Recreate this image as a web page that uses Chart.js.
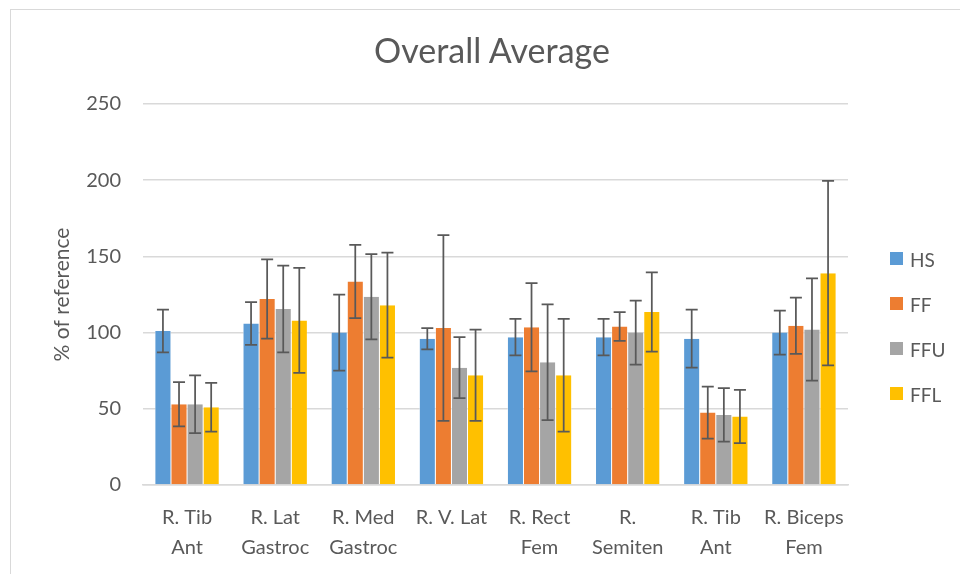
<!DOCTYPE html>
<html>
<head>
<meta charset="utf-8">
<script src="https://cdn.jsdelivr.net/npm/chart.js@4.4.1/dist/chart.umd.min.js"></script>
<style>
    html, body { margin: 0; padding: 0; background: #fff; }
    #wrap { position: relative; width: 960px; height: 574px; overflow: hidden; }
    #frame { position: absolute; left: 10px; top: 9px; width: 1000px; height: 600px; border: 1px solid #d9d9d9; box-sizing: border-box; }
    canvas { position: absolute; left: 0; top: 0; }
    #titulo { position: absolute; left: 0; width: 984px; top: 29px; text-align: center; font-family: Lato, sans-serif; font-size: 34px; line-height: 42px; color: #595959; }
    #legend { position: absolute; left: 890px; top: 248px; font-family: Lato, sans-serif; font-size: 19px; color: #595959; }
    #legend div { height: 45px; display: flex; align-items: flex-start; }
    #legend span.box { display: inline-block; width: 13px; height: 13px; margin: 4px 7px 0 0; }
</style>
</head>
<body>
<div id="wrap">
    <div id="frame"></div>
    <canvas id="chart" width="960" height="594"></canvas>
    <div id="titulo">Overall Average</div>
    <div id="legend"></div>
</div>
<script>
const categorias = [
    ["R. Tib", "Ant"], ["R. Lat", "Gastroc"], ["R. Med", "Gastroc"], ["R. V. Lat"],
    ["R. Rect", "Fem"], ["R.", "Semiten"], ["R. Tib", "Ant"], ["R. Biceps", "Fem"]
];
const series = ["HS", "FF", "FFU", "FFL"];
const colores = ["#5b9bd5", "#ed7d31", "#a5a5a5", "#ffc000"];

const valoresHS = [101, 106, 100, 96, 97, 97, 96, 100];
const valoresFF = [53, 122, 133.5, 103, 103.5, 104, 47.5, 104.5];
const valoresFFU = [53, 115.5, 123.5, 77, 80.5, 100, 46, 102];
const valoresFFL = [51, 108, 118, 72, 72, 113.5, 45, 139];

const errorHS = [14, 14, 25, 7, 12, 12, 19, 14.5];
const errorFF = [14.5, 26, 24, 61, 29, 9.5, 17, 18.5];
const errorFFU = [19, 28.5, 28, 20, 38, 21, 17.5, 33.5];
const errorFFL = [16, 34.5, 34.5, 30, 37, 26, 17.5, 60.5];

const ticksY = [0, 50, 100, 150, 200, 250];

const valores = [valoresHS, valoresFF, valoresFFU, valoresFFL];
const errores = [errorHS, errorFF, errorFFU, errorFFL];

// Barras de error simetricas dibujadas sobre cada barra
const errorBars = {
    id: "errorBars",
    afterDatasetsDraw(chart) {
        const ctx = chart.ctx;
        const y = chart.scales.y;
        ctx.save();
        ctx.strokeStyle = "#595959";
        ctx.lineWidth = 1.75;
        chart.data.datasets.forEach((ds, i) => {
            const meta = chart.getDatasetMeta(i);
            meta.data.forEach((bar, j) => {
                const v = ds.data[j];
                const e = ds.errores[j];
                const top = y.getPixelForValue(v + e);
                const bottom = y.getPixelForValue(v - e);
                ctx.beginPath();
                ctx.moveTo(bar.x, top);
                ctx.lineTo(bar.x, bottom);
                ctx.moveTo(bar.x - 6, top);
                ctx.lineTo(bar.x + 6, top);
                ctx.moveTo(bar.x - 6, bottom);
                ctx.lineTo(bar.x + 6, bottom);
                ctx.stroke();
            });
        });
        ctx.restore();
    }
};

const fuente = "Lato, sans-serif";

new Chart(document.querySelector("#chart"), {
    type: "bar",
    data: {
        labels: categorias,
        datasets: series.map((nombre, i) => ({
            label: nombre,
            data: valores[i],
            errores: errores[i],
            backgroundColor: colores[i],
            borderColor: "#ffffff",
            borderWidth: { left: 0.5, right: 0.5, top: 0, bottom: 0 },
            categoryPercentage: 0.73,
            barPercentage: 1
        }))
    },
    options: {
        responsive: false,
        animation: false,
        layout: { padding: { left: 50, right: 112, top: 104, bottom: 13 } },
        plugins: {
            legend: { display: false },
            tooltip: { enabled: false },
            title: { display: false }
        },
        scales: {
            x: {
                grid: { display: false, drawTicks: false },
                border: { color: "#d9d9d9", width: 1.5 },
                ticks: {
                    color: "#595959",
                    font: { family: fuente, size: 20, lineHeight: 1.5 },
                    padding: 18,
                    maxRotation: 0,
                    autoSkip: false
                }
            },
            y: {
                min: 0,
                max: 250,
                afterBuildTicks: (scale) => { scale.ticks = ticksY.map((v) => ({ value: v })); },
                afterFit: (scale) => { scale.width = 93; },
                grid: { color: "#d9d9d9", lineWidth: 1.5, drawTicks: false },
                border: { display: false },
                ticks: {
                    color: "#595959",
                    font: { family: fuente, size: 20 },
                    padding: 22
                },
                title: {
                    display: true,
                    text: "% of reference",
                    color: "#595959",
                    font: { family: fuente, size: 21 },
                    padding: { top: 0, bottom: 0 }
                }
            }
        }
    },
    plugins: [errorBars]
});

document.querySelector("#legend").innerHTML = series
    .map((nombre, i) => `<div><span class="box" style="background:${colores[i]}"></span>${nombre}</div>`)
    .join("");
</script>
</body>
</html>
